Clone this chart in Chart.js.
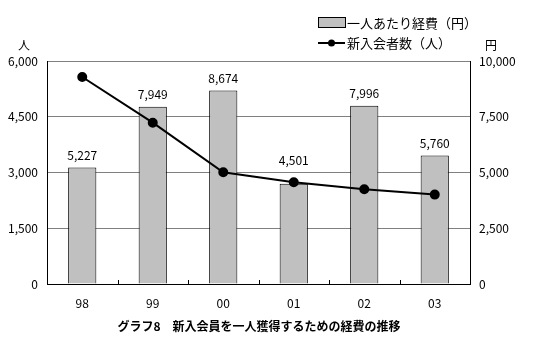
<!DOCTYPE html>
<html>
<head>
<meta charset="utf-8">
<script src="https://cdn.jsdelivr.net/npm/chart.js@4.4.0/dist/chart.umd.min.js"></script>
<style>
  html, body { margin: 0; padding: 0; background: #fff; }
  #wrap { width: 539px; height: 340px; position: relative; }
</style>
</head>
<body>
<div id="wrap"><canvas id="chart" width="539" height="340"></canvas></div>
<script>
// Chart data
const years = ['98', '99', '00', '01', '02', '03'];
const costPerMember = [5227, 7949, 8674, 4501, 7996, 5760];   // 円 (right axis)
const newMembers = [5570, 4340, 3005, 2740, 2550, 2405];       // 人 (left axis)
const leftTicks = [0, 1500, 3000, 4500, 6000];
const rightTicks = [0, 2500, 5000, 7500, 10000];

const FONT = '"Noto Sans CJK JP", "DejaVu Sans", sans-serif';
const fmt = v => Number(v).toLocaleString('en-US');

// Legend, unit labels, value labels, title and inner x ticks
const extras = {
    id: 'extras',
    afterDatasetsDraw(chart) {
        const ctx = chart.ctx;
        const area = chart.chartArea;
        const xs = chart.scales.x;
        ctx.save();

        // inner tick marks between categories
        ctx.strokeStyle = '#000';
        ctx.lineWidth = 1;
        for (let i = 1; i < years.length; i++) {
            const x = Math.round((xs.getPixelForTick(i - 1) + xs.getPixelForTick(i)) / 2) + 0.5;
            ctx.beginPath();
            ctx.moveTo(x, area.bottom);
            ctx.lineTo(x, area.bottom - 4);
            ctx.stroke();
        }

        // bar value labels (lifted above the line marker when they would collide)
        const pts = chart.getDatasetMeta(0).data;
        ctx.fillStyle = '#000';
        ctx.font = '12px ' + FONT;
        ctx.textAlign = 'center';
        ctx.textBaseline = 'middle';
        chart.getDatasetMeta(1).data.forEach((bar, i) => {
            let y = bar.y - 12;
            if (Math.abs(pts[i].y - y) < 16) y = pts[i].y - 22;
            ctx.fillText(fmt(costPerMember[i]), bar.x, y);
        });

        // unit labels
        ctx.fillText('人', 24, 45);
        ctx.fillText('円', 491, 45);

        // legend
        const lx = 318, lw = 27;
        ctx.fillStyle = '#C0C0C0';
        ctx.fillRect(lx, 17, lw, 10);
        ctx.strokeStyle = '#000';
        ctx.strokeRect(lx + 0.5, 17.5, lw, 10);
        ctx.lineWidth = 2;
        ctx.beginPath();
        ctx.moveTo(lx, 43);
        ctx.lineTo(lx + lw, 43);
        ctx.stroke();
        ctx.fillStyle = '#000';
        ctx.beginPath();
        ctx.arc(lx + lw / 2, 43, 3.5, 0, Math.PI * 2);
        ctx.fill();
        ctx.textAlign = 'left';
        ctx.font = '13px ' + FONT;
        ctx.fillText(chart.data.datasets[1].label, lx + lw + 2, 23);
        ctx.fillText(chart.data.datasets[0].label, lx + lw + 2, 43);

        // title
        ctx.textAlign = 'center';
        ctx.font = 'bold 12px ' + FONT;
        ctx.fillText('グラフ8　新入会員を一人獲得するための経費の推移', 259, 326);

        ctx.restore();
    }
};

new Chart(document.getElementById('chart'), {
    data: {
        labels: years,
        datasets: [
            {
                type: 'line',
                label: '新入会者数（人）',
                data: newMembers,
                yAxisID: 'y',
                borderColor: '#000',
                backgroundColor: '#000',
                borderWidth: 2,
                pointRadius: 4,
                pointBackgroundColor: '#000',
                tension: 0,
                order: 0
            },
            {
                type: 'bar',
                label: '一人あたり経費（円）',
                data: costPerMember,
                yAxisID: 'y1',
                backgroundColor: '#C0C0C0',
                borderColor: '#000',
                borderWidth: 1,
                barPercentage: 0.4,
                categoryPercentage: 1,
                order: 1
            }
        ]
    },
    options: {
        responsive: false,
        animation: false,
        layout: { padding: { top: 61, left: 0, right: 0, bottom: 0 } },
        plugins: {
            legend: { display: false },
            tooltip: { enabled: false }
        },
        scales: {
            x: {
                type: 'category',
                offset: true,
                grid: { display: false },
                border: { color: '#000', width: 1 },
                ticks: { color: '#000', font: { family: FONT, size: 12 }, padding: 4 },
                afterFit(scale) { scale.height = 56; }
            },
            y: {
                position: 'left',
                min: 0,
                max: 6000,
                afterBuildTicks(scale) { scale.ticks = leftTicks.map(v => ({ value: v })); },
                grid: { color: '#808080', drawTicks: false },
                border: { color: '#000', width: 1 },
                ticks: {
                    color: '#000',
                    font: { family: FONT, size: 12 },
                    padding: 9,
                    callback: fmt
                },
                afterFit(scale) { scale.width = 47; }
            },
            y1: {
                position: 'right',
                min: 0,
                max: 10000,
                afterBuildTicks(scale) { scale.ticks = rightTicks.map(v => ({ value: v })); },
                grid: { drawOnChartArea: false, drawTicks: false },
                border: { color: '#000', width: 1 },
                ticks: {
                    color: '#000',
                    font: { family: FONT, size: 12 },
                    padding: 9,
                    callback: fmt
                },
                afterFit(scale) { scale.width = 69; }
            }
        }
    },
    plugins: [extras]
});
</script>
</body>
</html>
